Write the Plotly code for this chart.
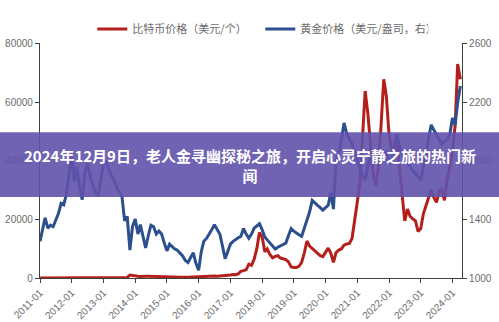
import pandas as pd
import plotly.graph_objects as go

months = pd.date_range("2011-01-01", periods=160, freq="MS")

gold_price = [
    1250, 1330, 1410, 1340, 1360, 1350, 1400, 1440, 1510, 1500, 1570, 1710,
    1826, 1660, 1760, 1620, 1535, 1720, 1780, 1690, 1640, 1582, 1562, 1680,
    1780, 1800, 1740, 1700, 1667, 1620, 1590, 1560, 1390, 1420, 1190, 1350,
    1403, 1300, 1364, 1280, 1205, 1290, 1360, 1350, 1300, 1320, 1300, 1240,
    1185, 1231, 1215, 1198, 1190, 1172, 1150, 1120, 1106, 1140, 1172, 1100,
    1053, 1180, 1251, 1270, 1297, 1330, 1364, 1330, 1300, 1220, 1132, 1180,
    1231, 1250, 1265, 1275, 1284, 1337, 1300, 1271, 1300, 1340, 1355, 1370,
    1330, 1280, 1260, 1238, 1215, 1198, 1210, 1218, 1230, 1238, 1290, 1337,
    1320, 1304, 1295, 1284, 1340, 1403, 1450, 1529, 1510, 1496, 1480, 1463,
    1480, 1496, 1582, 1470, 1800, 1850, 1940, 2058, 1985, 1950, 1912, 1860,
    1790, 1740, 1700, 1667, 1760, 1846, 1800, 1790, 1780, 1800, 1840, 1866,
    1800, 1780, 1900, 1978, 1900, 1846, 1830, 1790, 1760, 1730, 1714, 1690,
    1667, 1760, 1846, 1960, 2045, 2010, 1978, 1940, 1912, 1930, 1946, 1978,
    2091, 2045, 2197, 2310,
]

btc_price = [
    0.3, 1, 1, 1, 8, 17, 14, 10, 5, 3, 3, 4,
    6, 5, 5, 5, 5, 7, 9, 11, 12, 11, 11, 13,
    20, 33, 90, 140, 120, 100, 90, 100, 130, 200, 1000, 800,
    850, 600, 500, 450, 600, 620, 580, 500, 400, 340, 370, 320,
    220, 250, 250, 230, 230, 260, 280, 230, 240, 310, 380, 430,
    380, 430, 420, 450, 530, 700, 650, 570, 610, 700, 740, 960,
    1000, 1200, 1100, 1400, 2300, 2500, 2800, 4700, 4300, 6400, 10000, 15500,
    14000, 9000, 9900, 8000, 6900, 7400, 7600, 6800, 6600, 6300, 5500, 3800,
    3600, 3600, 4000, 5300, 8500, 12600, 10900, 10000, 9300, 8500, 7600, 7300,
    9000, 10200, 8500, 5300, 8700, 9500, 9900, 11200, 11600, 11800, 13500, 19200,
    26000, 33000, 50000, 63800, 56500, 46600, 35700, 31400, 38000, 52000, 67800, 62000,
    48900, 43300, 44500, 46600, 38000, 26800, 19500, 23500, 21000, 20200, 19500, 15900,
    16900, 22000, 24800, 28000, 30100, 27500, 25800, 29500, 30100, 26500, 33400, 38000,
    43300, 52000, 73000, 67800,
]

btc_name = "比特币价格（美元/个）"
gold_name = "黄金价格（美元/盎司，右）"
left_ticks = [0, 20000, 40000, 60000, 80000]
right_ticks = [1000, 1400, 1800, 2200, 2600]
title_text = "2024年12月9日，老人金寻幽探秘之旅，开启心灵宁静之旅的热门新<br>闻"

fig = go.Figure()
fig.add_trace(go.Scatter(
    x=months, y=btc_price, name=btc_name, mode="lines",
    line=dict(color="#b3201c", width=3), yaxis="y", legendrank=1,
))
fig.add_trace(go.Scatter(
    x=months, y=gold_price, name=gold_name, mode="lines",
    line=dict(color="#2c4f8e", width=3), yaxis="y2", legendrank=2,
))

tick_font = dict(family="Liberation Sans, Arial, sans-serif", size=10, color="#6b6b6b")
axis_common = dict(
    showgrid=False, zeroline=False, showline=True, linecolor="#404040", linewidth=1.2,
    ticks="outside", ticklen=4, tickcolor="#404040", tickfont=tick_font,
    automargin=False,
)

fig.update_layout(
    width=499, height=322,
    margin=dict(l=40, r=37, t=35, b=44),
    paper_bgcolor="white", plot_bgcolor="white",
    showlegend=True,
    legend=dict(
        orientation="h", xref="container", x=0.185, xanchor="left",
        yref="container", y=0.91, yanchor="middle",
        font=dict(family="Noto Sans CJK SC", size=11, color="#6b6b6b"),
        entrywidth=123, entrywidthmode="pixels", bgcolor="rgba(0,0,0,0)",
        itemwidth=30, tracegroupgap=0,
    ),
    xaxis=dict(
        **axis_common,
        range=["2011-01-01", "2024-04-20"],
        tick0="2011-01-01", dtick="M12", tickformat="%Y-%m", tickangle=-45,
    ),
    yaxis=dict(**axis_common, range=[0, 80000], tickvals=left_ticks, tickformat="d"),
    yaxis2=dict(**axis_common, range=[1000, 2600], tickvals=right_ticks, tickformat="d",
                overlaying="y", side="right"),
    shapes=[dict(
        type="rect", xref="paper", yref="paper",
        x0=-40 / 422, x1=459 / 422, y0=(278 - 194) / 243, y1=(278 - 127) / 243,
        fillcolor="rgba(98,82,172,0.9)", line=dict(width=0), layer="above",
    )],
    annotations=[dict(
        text="<b>" + title_text.replace("<br>", "</b><br><b>") + "</b>",
        xref="paper", yref="paper", x=(249.5 - 40) / 422, y=(278 - 161) / 243,
        xanchor="center", yanchor="middle", showarrow=False, align="center",
        font=dict(family="Noto Sans CJK SC", size=15, color="white"),
    )],
)

fig.write_html("out.html")
